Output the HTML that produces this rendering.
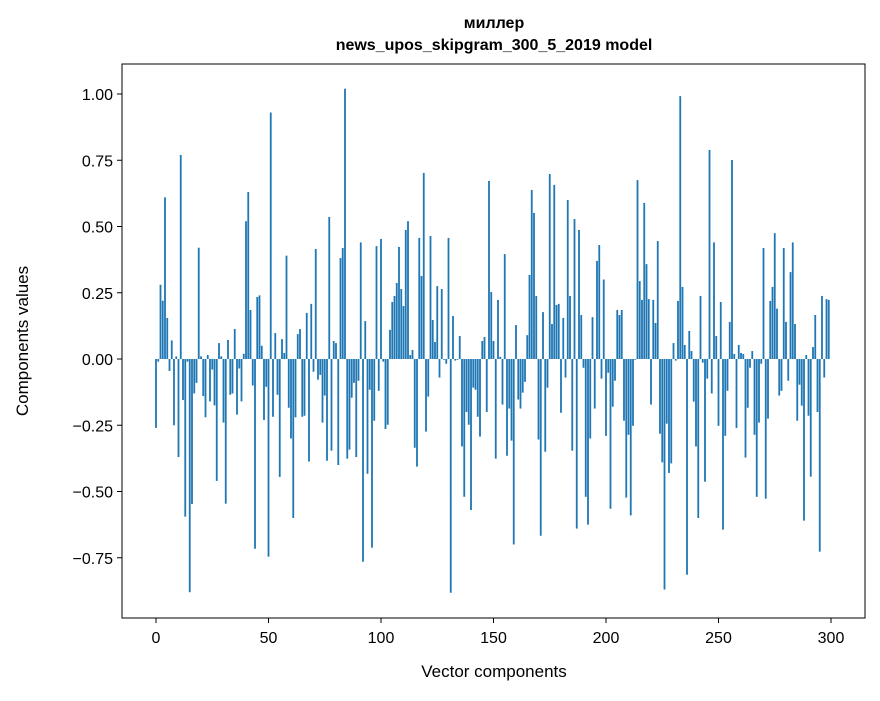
<!DOCTYPE html>
<html><head><meta charset="utf-8"><style>
body{margin:0;background:#fff;}
svg text{font-family:"Liberation Sans","DejaVu Sans",sans-serif;fill:#000;}
</style></head><body>
<svg id="chart" width="880" height="696" viewBox="0 0 880 696" xmlns="http://www.w3.org/2000/svg">
<rect x="0" y="0" width="880" height="696" fill="#fff"/>
<text x="494" y="28" text-anchor="middle" font-size="16" font-weight="bold">миллер</text>
<text x="494" y="50" text-anchor="middle" font-size="16" font-weight="bold">news_upos_skipgram_300_5_2019 model</text>
<g id="bars"></g>
<g id="yticks"></g>
<g id="xticks"></g>
<rect x="122" y="64" width="743" height="554" fill="none" stroke="#000" stroke-width="1"/>
<text x="494" y="677" text-anchor="middle" font-size="17">Vector components</text>
<text transform="translate(28,341) rotate(-90)" text-anchor="middle" font-size="17">Components values</text>
</svg>
<script>
const values = [
-0.26,-0.01,0.28,0.22,0.61,0.155,-0.045,0.07,-0.25,0.01,
-0.37,0.77,-0.155,-0.595,-0.01,-0.88,-0.547,-0.13,-0.09,0.42,
0.01,-0.14,-0.22,0.015,-0.16,-0.04,-0.175,-0.46,0.06,0.01,
-0.24,-0.546,0.072,-0.135,-0.13,0.113,-0.21,-0.036,-0.16,0.02,
0.52,0.63,0.185,-0.1,-0.716,0.234,0.24,0.05,-0.23,-0.105,
-0.746,0.93,-0.218,0.098,-0.135,-0.445,0.075,0.023,0.39,-0.184,
-0.3,-0.6,-0.22,0.094,0.113,-0.218,-0.214,0.174,-0.387,0.208,
-0.048,0.415,-0.078,-0.06,-0.24,-0.138,-0.384,0.536,-0.346,0.068,
0.06,-0.4,0.381,0.419,1.02,-0.376,-0.342,-0.146,-0.09,-0.37,
-0.082,0.44,-0.765,0.143,-0.433,-0.116,-0.712,-0.233,0.426,-0.12,
0.453,-0.01,-0.264,-0.248,0.11,0.215,0.238,0.287,0.423,0.264,
0.2,0.487,0.52,0.015,0.034,-0.335,-0.406,0.457,0.313,0.702,
-0.274,-0.142,0.464,0.147,0.064,0.275,-0.07,0.264,-0.003,-0.018,
0.457,-0.882,0.162,-0.006,-0.003,0.087,-0.33,-0.52,-0.2,-0.248,
-0.57,-0.108,-0.116,-0.218,-0.293,0.068,0.083,-0.2,0.672,0.253,
0.068,-0.376,0.223,0.008,-0.172,0.396,-0.365,-0.187,-0.308,-0.7,
0.128,-0.153,-0.187,-0.127,-0.086,0.09,0.317,0.638,0.551,0.238,
-0.304,-0.667,0.177,-0.35,-0.108,0.698,0.132,0.657,0.204,0.208,
-0.203,0.155,-0.07,0.6,0.238,-0.346,0.528,-0.64,0.487,0.166,
-0.033,-0.52,-0.625,-0.3,0.158,-0.187,0.37,0.43,-0.074,0.3,
-0.29,-0.052,-0.565,-0.18,-0.082,0.185,0.166,0.185,-0.233,-0.523,
-0.286,-0.59,-0.252,-0.003,0.675,0.294,0.223,0.589,0.358,0.226,
-0.172,0.223,0.136,0.445,-0.282,-0.39,-0.87,-0.244,-0.43,-0.394,
0.06,-0.006,0.219,0.992,0.272,0.053,-0.814,0.106,0.03,-0.161,
-0.33,-0.6,0.238,-0.014,-0.463,-0.074,0.789,-0.13,0.44,0.087,
-0.252,0.215,-0.644,-0.29,-0.12,0.14,0.751,0.019,-0.26,0.053,
0.023,0.019,-0.372,-0.184,-0.033,0.03,-0.286,-0.52,-0.24,-0.018,
0.419,-0.527,-0.225,0.219,0.272,0.475,0.19,-0.138,-0.12,0.419,
0.14,-0.082,0.328,0.44,0.132,-0.233,-0.097,-0.176,-0.61,0.015,
-0.214,-0.444,0.045,0.166,-0.2,-0.727,0.238,-0.07,0.226,0.223
];
const yTickValues = [-0.75,-0.5,-0.25,0,0.25,0.5,0.75,1.0];
const yTickLabels = ["\u22120.75","\u22120.50","\u22120.25","0.00","0.25","0.50","0.75","1.00"];
const xTickValues = [0,50,100,150,200,250,300];
const xTickLabels = ["0","50","100","150","200","250","300"];

const NS = "http://www.w3.org/2000/svg";
function xScale(i){ return 156 + i*2.25; }
function yScale(v){ return 359 - v*265; }

const barsG = document.getElementById('bars');
values.forEach(function(v,i){
  const r = document.createElementNS(NS,'rect');
  const y0 = yScale(0), y1 = yScale(v);
  r.setAttribute('x', xScale(i)-0.9);
  r.setAttribute('width', 1.8);
  r.setAttribute('y', Math.min(y0,y1));
  r.setAttribute('height', Math.max(Math.abs(y1-y0),0.3));
  r.setAttribute('fill','#1f77b4');
  
  
  barsG.appendChild(r);
});

const yG = document.getElementById('yticks');
yTickValues.forEach(function(v,k){
  const y = yScale(v);
  const l = document.createElementNS(NS,'line');
  l.setAttribute('x1',117); l.setAttribute('x2',122);
  l.setAttribute('y1',y); l.setAttribute('y2',y);
  l.setAttribute('stroke','#000');
  
  
  yG.appendChild(l);
  const t = document.createElementNS(NS,'text');
  t.setAttribute('x',113); t.setAttribute('y',y+6);
  t.setAttribute('text-anchor','end'); t.setAttribute('font-size','16');
  t.textContent = yTickLabels[k];
  
  
  yG.appendChild(t);
});

const xG = document.getElementById('xticks');
xTickValues.forEach(function(v,k){
  const x = xScale(v);
  const l = document.createElementNS(NS,'line');
  l.setAttribute('x1',x); l.setAttribute('x2',x);
  l.setAttribute('y1',618); l.setAttribute('y2',623);
  l.setAttribute('stroke','#000');
  
  
  xG.appendChild(l);
  const t = document.createElementNS(NS,'text');
  t.setAttribute('x',x); t.setAttribute('y',643);
  t.setAttribute('text-anchor','middle'); t.setAttribute('font-size','16');
  t.textContent = xTickLabels[k];
  
  
  xG.appendChild(t);
});
</script>
</body></html>
